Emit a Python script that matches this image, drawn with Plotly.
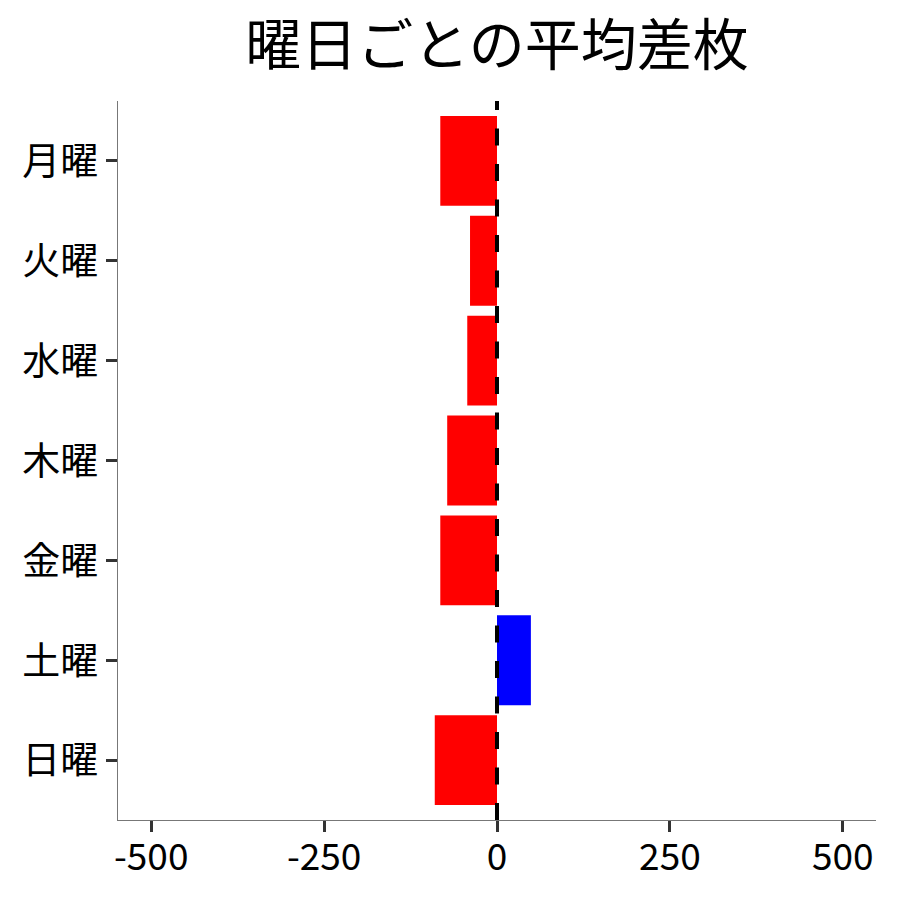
import plotly.graph_objects as go

days = ["月曜", "火曜", "水曜", "木曜", "金曜", "土曜", "日曜"]
avg_diff = [-82, -39, -43, -72, -82, 49, -90]
x_ticks = [-500, -250, 0, 250, 500]
x_tick_labels = ["-500", "-250", "0", "250", "500"]

colors = ["blue" if v > 0 else "red" for v in avg_diff]
FONT = "Noto Sans CJK JP"

fig = go.Figure()
fig.add_trace(go.Bar(
    x=avg_diff, y=days, orientation="h",
    marker=dict(color=colors, line=dict(width=0)),
    width=0.9, showlegend=False,
))
fig.add_shape(type="line", xref="x", yref="paper", x0=0, x1=0, y0=0, y1=1,
              line=dict(color="black", width=4, dash="17px,18.5px"), layer="above")

fig.update_layout(
    width=900, height=900,
    paper_bgcolor="white", plot_bgcolor="white",
    margin=dict(l=110, r=32, t=93, b=88),
    font=dict(family=FONT, color="black"),
    title=dict(text="曜日ごとの平均差枚", x=0.5, xref="paper", xanchor="center",
               y=1 - 37/900, yref="container", yanchor="middle",
               font=dict(family=FONT, size=56, color="black")),
)
fig.update_xaxes(range=[-548, 548], tickvals=x_ticks, ticktext=x_tick_labels,
                 showgrid=False, zeroline=False, showline=True, linecolor="#777",
                 linewidth=1.2, ticks="outside", ticklen=11, tickwidth=3,
                 tickcolor="#333", ticklabelstandoff=-7,
                 tickfont=dict(size=37, family=FONT, color="black"))
fig.update_yaxes(categoryorder="array", categoryarray=days, autorange=False,
                 range=[6.6, -0.6], showgrid=False, zeroline=False,
                 showline=True, linecolor="#777", linewidth=1.2,
                 ticks="outside", ticklen=11, tickwidth=3, tickcolor="#333",
                 tickfont=dict(size=38, family=FONT, color="black"))

fig.write_html("out.html")
